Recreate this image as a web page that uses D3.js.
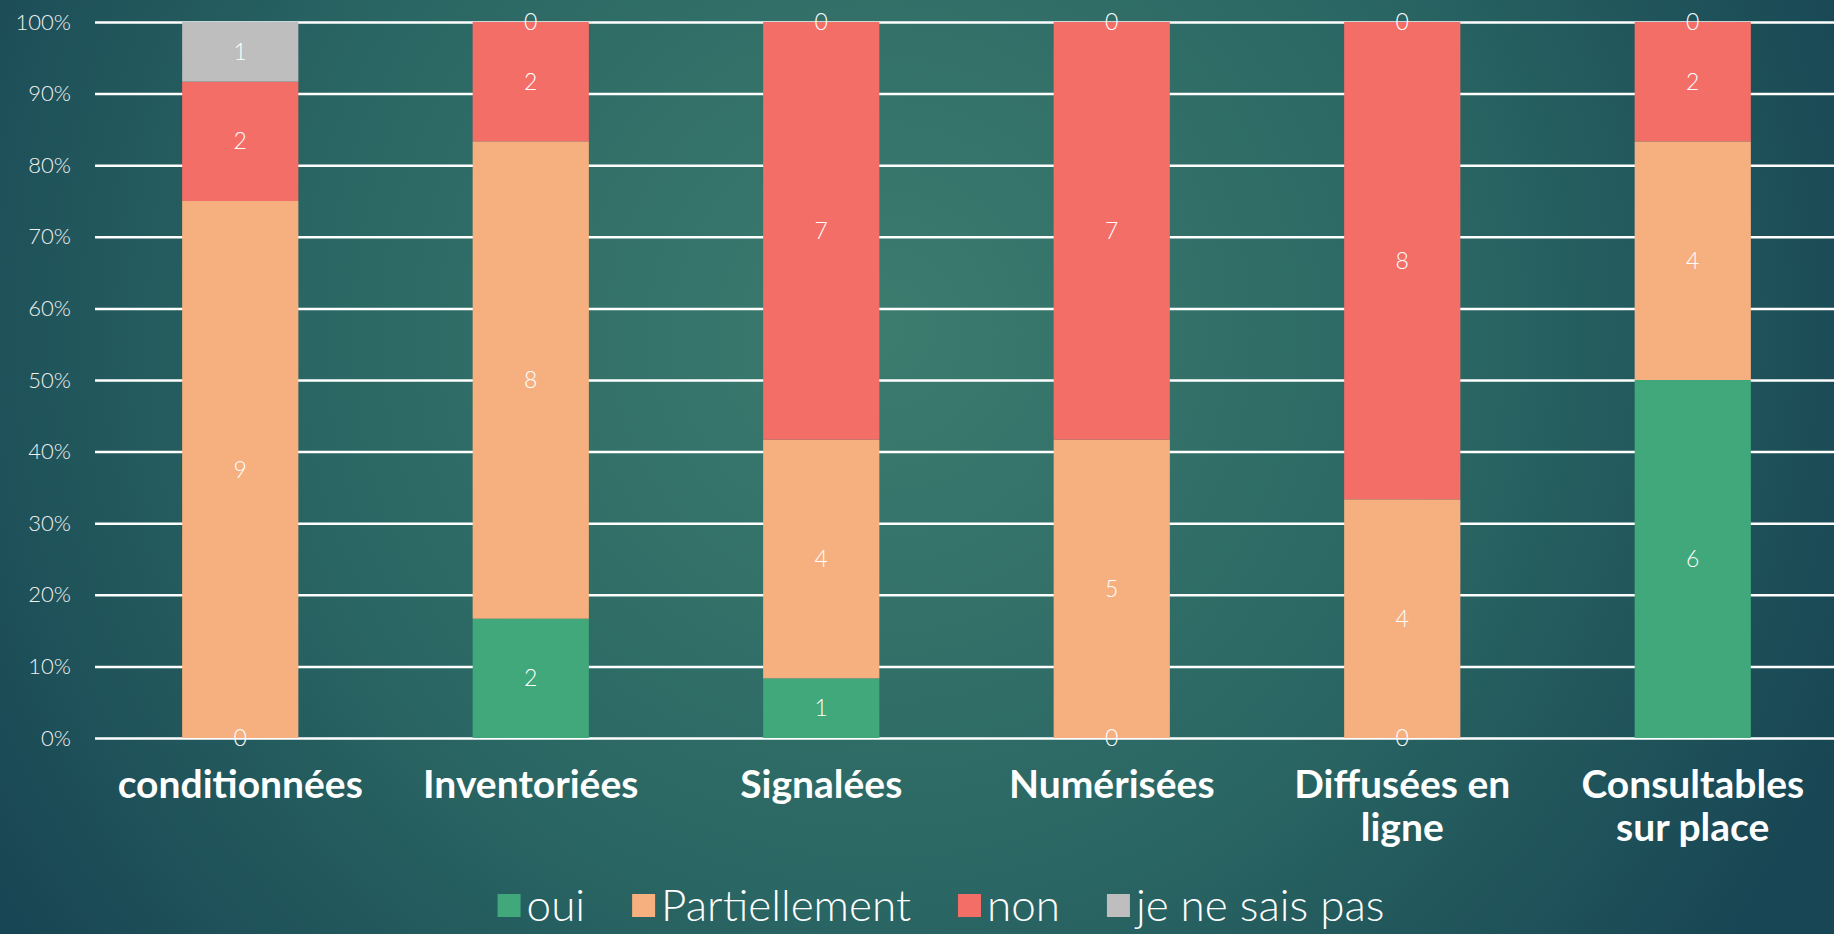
<!DOCTYPE html>
<html>
<head>
<meta charset="utf-8">
<script src="https://cdn.jsdelivr.net/npm/d3@7"></script>
<style>
  html, body { margin: 0; padding: 0; background: #1d4e55; }
  svg { display: block; }
  text { font-family: "Lato", "Open Sans", "DejaVu Sans", sans-serif; }
</style>
</head>
<body>
<div id="chart"></div>
<script>
(() => {

    // categories (x axis), lines split for display
    const categories = ["conditionnées", "Inventoriées", "Signalées", "Numérisées", "Diffusées en ligne", "Consultables sur place"]
    const categoryLines = [["conditionnées"], ["Inventoriées"], ["Signalées"], ["Numérisées"], ["Diffusées en", "ligne"], ["Consultables", "sur place"]]

    const seriesNames = ["oui", "Partiellement", "non", "je ne sais pas"]
    const oui = [0, 2, 1, 0, 0, 6]
    const partiellement = [9, 8, 4, 5, 4, 4]
    const non = [2, 2, 7, 7, 8, 2]
    const nsp = [1, 0, 0, 0, 0, 0]
    const colors = ["#40a87b", "#f6b07f", "#f36e67", "#bebebe"]

    const yTicks = [0, 0.1, 0.2, 0.3, 0.4, 0.5, 0.6, 0.7, 0.8, 0.9, 1]

    const width = 1834
    const height = 934
    const left = 95, right = 1838, top = 22, bottom = 738

    // build rows for the stack (share of the total per category)
    const rows = categories.map((c, i) => {
        const vals = [oui[i], partiellement[i], non[i], nsp[i]]
        const total = d3.sum(vals)
        const row = { cat: c, total: total, raw: vals }
        seriesNames.forEach((s, j) => row[s] = vals[j] / total)
        return row
    })

    const stacked = d3.stack().keys(seriesNames)(rows)

    const x_scale = d3.scaleBand()
        .domain(categories)
        .range([left, right])
        .paddingInner(0.6)
        .paddingOuter(0.3)

    const y_scale = d3.scaleLinear()
        .domain([0, 1])
        .range([bottom, top])

    const svg = d3.select("#chart")
        .append("svg")
            .attr("width", width)
            .attr("height", height)

    // background gradient
    const defs = svg.append("defs")
    const grad = defs.append("radialGradient")
        .attr("id", "bg")
        .attr("gradientUnits", "userSpaceOnUse")
        .attr("cx", 880).attr("cy", 330).attr("r", 1050)
    grad.append("stop").attr("offset", "0%").attr("stop-color", "#3c7c6f")
    grad.append("stop").attr("offset", "55%").attr("stop-color", "#2a6663")
    grad.append("stop").attr("offset", "100%").attr("stop-color", "#184654")

    svg.append("rect")
        .attr("width", width)
        .attr("height", height)
        .attr("fill", "url(#bg)")

    // gridlines + y labels
    const y_axis = d3.axisLeft(y_scale)
        .tickValues(yTicks)
        .tickSize(-(width - left))
        .tickFormat(d3.format(".0%"))

    const yg = svg.append("g")
        .attr("class", "y_axis")
        .attr("transform", `translate(${left}, 0)`)
        .call(y_axis)
    yg.select(".domain").remove()
    yg.selectAll(".tick line")
        .attr("stroke", "#ffffff")
        .attr("stroke-width", 2.5)
    yg.selectAll(".tick text")
        .attr("x", -24)
        .attr("fill", "#f0f0f0")
        .style("font-size", "22px")
        .style("font-weight", 300)
        .style("font-family", "Lato, sans-serif")

    // bars
    const layers = svg.append("g")
        .selectAll("g")
        .data(stacked)
        .enter()
        .append("g")
            .attr("fill", (d, i) => colors[i])

    layers.selectAll("rect")
        .data(d => d)
        .enter()
        .append("rect")
            .attr("x", d => x_scale(d.data.cat))
            .attr("width", x_scale.bandwidth())
            .attr("y", d => y_scale(d[1]))
            .attr("height", d => y_scale(d[0]) - y_scale(d[1]))

    // value labels: every non-zero value, plus zeros of the bottom and top series
    const labelData = []
    stacked.forEach((layer, j) => {
        layer.forEach(d => {
            const v = d.data.raw[j]
            if (v === 0 && j !== 0 && j !== 3) return
            labelData.push({ cat: d.data.cat, mid: (d[0] + d[1]) / 2, v: v })
        })
    })

    svg.append("g")
        .selectAll("text")
        .data(labelData)
        .enter()
        .append("text")
            .attr("x", d => x_scale(d.cat) + x_scale.bandwidth() / 2)
            .attr("y", d => y_scale(d.mid))
            .attr("dy", "0.35em")
            .attr("text-anchor", "middle")
            .attr("fill", "#ffffff")
            .style("font-size", "23px")
            .style("font-weight", 300)
            .text(d => d.v)

    // category labels, one text per line
    const catG = svg.append("g")
    categoryLines.forEach((lines, i) => {
        const cx = x_scale(categories[i]) + x_scale.bandwidth() / 2
        lines.forEach((l, k) => {
            catG.append("text")
                .attr("x", cx)
                .attr("y", 798 + k * 43)
                .attr("text-anchor", "middle")
                .attr("fill", "#ffffff")
                .style("font-size", "39px")
                .style("font-weight", 700)
                .text(l)
        })
    })

    // legend
    const legend = svg.append("g")
    const legendItems = legend.selectAll("g")
        .data(seriesNames)
        .enter()
        .append("g")
    legendItems.append("rect")
        .attr("width", 23)
        .attr("height", 23)
        .attr("y", -27)
        .attr("fill", (d, i) => colors[i])
    legendItems.append("text")
        .attr("x", 29)
        .attr("y", 0)
        .attr("fill", "#ffffff")
        .style("font-size", "44px")
        .style("font-weight", 300)
        .text(d => d)

    let xpos = 0
    const gap = 47
    const offsets = []
    legendItems.each(function() {
        offsets.push(xpos)
        xpos += this.getBBox().width + gap
    })
    const totalW = xpos - gap
    const startX = 941 - totalW / 2
    legendItems.attr("transform", (d, i) => `translate(${startX + offsets[i]}, 921)`)

})();
</script>
</body>
</html>
